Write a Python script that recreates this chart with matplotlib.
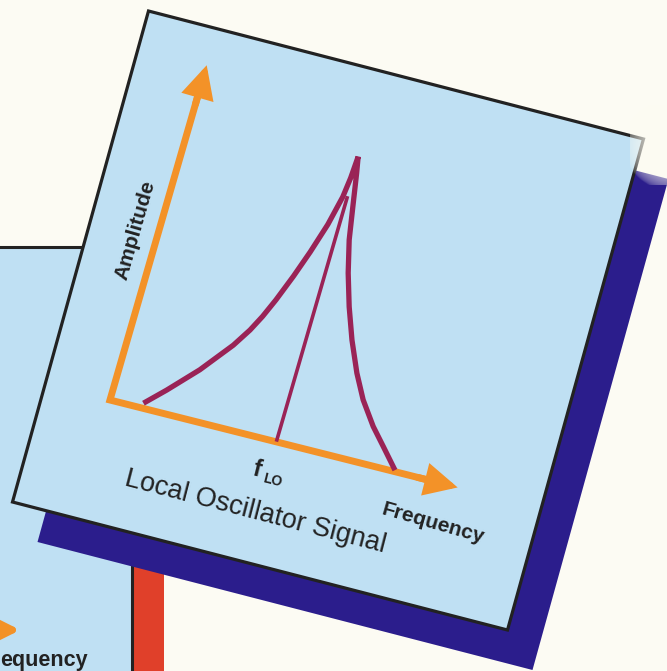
import numpy as np
import matplotlib
matplotlib.use('Agg')
import matplotlib.pyplot as plt
from matplotlib.patches import Polygon, Rectangle, FancyArrowPatch
from matplotlib.transforms import Affine2D

plt.rcParams['font.family'] = ['Liberation Sans', 'DejaVu Sans']

# spectrum (frequency, amplitude in chart units)
left_freq = [6.4, 10.0, 15.1, 20.0, 22.3, 23.9, 25.5, 27.5, 29.3, 31.1, 32.4, 32.85, 33.1]
left_amp = [1.0, 4.6, 10.1, 16.4, 20.1, 23.3, 27.1, 32.5, 37.9, 44.0, 50.0, 54.0, 58.4]
right_freq = [33.1, 33.7, 34.8, 35.9, 37.5, 39.5, 41.8, 44.5, 47.1, 50.4, 53.4, 56.8]
right_amp = [58.4, 55.2, 48.6, 42.1, 35.7, 29.3, 23.1, 17.0, 12.2, 7.6, 4.2, 0.3]
lo_freq = [33.2, 33.25]
lo_amp = [0.4, 50.0]

freq_axis_len = 69.4
amp_axis_len = 68.6

title = 'Local Oscillator Signal'
xlabel = 'Frequency'
ylabel = 'Amplitude'

# colours
bg = '#fcfbf3'
panel = '#bfe0f3'
shadow = '#2b1d8c'
red = '#e0402a'
orange = '#f39228'
curve = '#9a2356'
ink = '#222222'

fig = plt.figure(figsize=(6.67, 6.71), dpi=100, facecolor=bg)
ax = fig.add_axes([0, 0, 1, 1])
ax.set_facecolor(bg)

# tilted card: local 0..100 square -> picture pixels
card = Affine2D.from_values(4.95, 1.28, 1.36, -4.91, 12.5, 502)
card_tf = card + ax.transData
shadow_tf = card + Affine2D().translate(25, 40) + ax.transData
# plotting area inside the card
area = Affine2D.from_values(5.01, 1.26, 1.41, -4.88, 10, 500.5)
chart_tf = Affine2D().translate(13.2, 24.0) + area + ax.transData
square = [(0, 0), (100, 0), (100, 100), (0, 100)]

# second card peeking out behind
ax.add_patch(Rectangle((133, 300), 31, 420, fc=red, ec='none', zorder=1))
ax.add_patch(Rectangle((-10, 247), 142, 500, fc=panel, ec=ink, lw=2.2, zorder=1))
ax.annotate('', xy=(23, 630), xytext=(-40, 630), zorder=1.5,
            arrowprops=dict(arrowstyle='-|>,head_length=0.8,head_width=0.4',
                            mutation_scale=20, lw=5, color=orange))
ax.text(0, 666, 'equency', ha='left', va='baseline', fontsize=15.5,
        fontweight='bold', color=ink, zorder=1.5)

# main card and its shadow
ax.add_patch(Polygon(square, closed=True, transform=shadow_tf, fc=shadow, ec='none', zorder=2))
ax.add_patch(Polygon(square, closed=True, transform=card_tf, fc=panel, ec=ink,
                     lw=2.3, joinstyle='miter', zorder=3))

# faded top-right corner of the scan
yy, xx = np.mgrid[0:100, 0:100]
rr = np.hypot(xx - 50, yy - 50) / 50.0
fade = np.ones((100, 100, 4))
fade[..., :3] = [0.99, 0.985, 0.95]
fade[..., 3] = np.clip(1.15 - rr, 0, 1) ** 0.5
ax.imshow(fade, extent=(630, 720, 185, 105), zorder=3.5, interpolation='bilinear')
ax.set_xlim(0, 667)
ax.set_ylim(671, 0)
ax.axis('off')

# axes
ax.plot([0, 0, freq_axis_len - 4], [amp_axis_len - 4, 0, 0], color=orange, lw=5,
        solid_joinstyle='miter', solid_capstyle='butt', transform=chart_tf, zorder=4)
for a, b in [((0, amp_axis_len - 8), (0, amp_axis_len)),
             ((freq_axis_len - 8, 0), (freq_axis_len, 0))]:
    ax.add_patch(FancyArrowPatch(a, b, transform=chart_tf, zorder=4,
                                 arrowstyle='-|>,head_length=0.8,head_width=0.4',
                                 mutation_scale=20, lw=5, color=orange,
                                 shrinkA=0, shrinkB=0, joinstyle='miter'))

# spectrum (one stroke over the peak)
ax.plot(left_freq + right_freq[1:], left_amp + right_amp[1:], color=curve, lw=3.8,
        transform=chart_tf, zorder=5, solid_capstyle='butt', solid_joinstyle='miter')
ax.plot(lo_freq, lo_amp, color=curve, lw=2.6, transform=chart_tf, zorder=5)

# labels
ax.text(-4.3, 33.7, ylabel, rotation=74, rotation_mode='anchor', ha='center', va='center',
        fontsize=15, fontweight='bold', color=ink, transform=chart_tf, zorder=6)
ax.text(66.7, -8.0, xlabel, rotation=-16, rotation_mode='anchor', ha='center', va='center',
        fontsize=15, fontweight='bold', color=ink, transform=chart_tf, zorder=6)
ax.text(31.1, -6.3, 'f', rotation=-14, rotation_mode='anchor', ha='center', va='center',
        fontsize=17, fontweight='bold', color=ink, transform=chart_tf, zorder=6)
ax.text(34.6, -7.5, 'LO', rotation=-14, rotation_mode='anchor', ha='center', va='center',
        fontsize=10, fontweight='bold', color=ink, transform=chart_tf, zorder=6)
ax.text(33.0, -14.4, title, rotation=-14.5, rotation_mode='anchor', ha='center', va='center',
        fontsize=19.5, color=ink, transform=chart_tf, zorder=6)

fig.savefig('out.png', dpi=100, facecolor=bg)
